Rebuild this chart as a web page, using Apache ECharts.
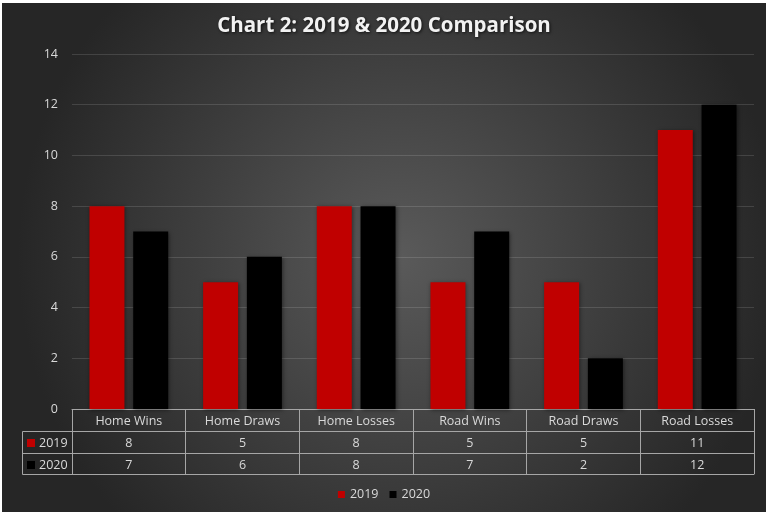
<!DOCTYPE html>
<html>
<head>
<meta charset="utf-8">
<script src="https://cdn.jsdelivr.net/npm/echarts@6/dist/echarts.min.js"></script>
<style>
html,body{margin:0;padding:0;background:#fff;width:772px;height:516px;overflow:hidden;}
#c{position:absolute;left:2px;top:3px;width:764px;height:509px;}
</style>
</head>
<body>
<div id="c"></div>
<script>
const categories = ['Home Wins','Home Draws','Home Losses','Road Wins','Road Draws','Road Losses'];
const seriesNames = ['2019','2020'];
const values2019 = [8,5,8,5,5,11];
const values2020 = [7,6,8,7,2,12];
const yTicks = {min:0,max:14,interval:2};

const colors = ['#c00000','#000000'];
const FONT = '"Open Sans", sans-serif';
const FS = 12.5;
const TXT = '#d9d9d9';
const BORDER = '#a6a6a6';
const G = {left:70, right:12, top:51, axisY:406};   // layout
const ROW = 22;
const tableLeft = 20;
const W = 764, H = 509;

const chart = echarts.init(document.getElementById('c'), null, {renderer:'canvas'});
const allVals = [values2019, values2020];

const xAxes = [
  {
    type:'category', data:categories, position:'bottom', gridIndex:0,
    axisLine:{show:true,lineStyle:{color:BORDER,width:1}},
    axisTick:{show:true,length:ROW*3-1,inside:false,lineStyle:{color:BORDER}},
    axisLabel:{color:TXT,fontFamily:FONT,fontSize:FS,margin:5.5,interval:0}
  }
];
allVals.forEach((vals, k) => {
  xAxes.push({
    type:'category', data:categories, position:'bottom', offset:ROW*(k+1),
    axisLine:{show:true,lineStyle:{color:BORDER,width:1}},
    axisTick:{show:false},
    axisLabel:{color:TXT,fontFamily:FONT,fontSize:FS,margin:5.5,interval:0,
      formatter:(v,i)=>String(vals[i])}
  });
});
xAxes.push({
  type:'category', data:categories, position:'bottom', offset:ROW*3-1,
  axisLine:{show:true,lineStyle:{color:BORDER,width:1}},
  axisTick:{show:false}, axisLabel:{show:false}
});

const graphics = [];
const rowTop = G.axisY + ROW;
[0,1,2].forEach(r=>{
  const y = rowTop + (r===2 ? ROW*2-1 : ROW*r) + 0.5;
  graphics.push({type:'line',shape:{x1:tableLeft+0.5,y1:y,x2:G.left+0.5,y2:y},style:{stroke:BORDER,lineWidth:1},silent:true});
});
graphics.push({type:'line',shape:{x1:tableLeft+0.5,y1:rowTop+0.5,x2:tableLeft+0.5,y2:rowTop+ROW*2-0.5},style:{stroke:BORDER,lineWidth:1},silent:true});
seriesNames.forEach((nm,k)=>{
  const cy = rowTop + ROW*k + ROW/2 + 1;
  graphics.push({type:'rect',shape:{x:tableLeft+5,y:cy-4,width:8,height:8},style:{fill:colors[k]},silent:true});
  graphics.push({type:'text',x:tableLeft+17,y:cy,style:{text:nm,fill:TXT,font:FS+'px '+FONT,verticalAlign:'middle',textAlign:'left'},silent:true});
});

chart.setOption({
  backgroundColor:{type:'radial',x:0.52,y:0.5,r:0.75,colorStops:[{offset:0,color:'#5a5a5a'},{offset:1,color:'#262626'}]},
  textStyle:{fontFamily:FONT},
  title:{text:'Chart 2: 2019 & 2020 Comparison',left:'center',top:8,
    textStyle:{color:'#f2f2f2',fontSize:20.5,fontWeight:'bold',fontFamily:FONT,
      textShadowColor:'rgba(0,0,0,0.7)',textShadowBlur:3,textShadowOffsetX:1,textShadowOffsetY:1}},
  legend:{data:seriesNames,top:480,left:'center',itemWidth:7,itemHeight:7,itemGap:11,icon:'rect',
    textStyle:{color:TXT,fontSize:FS,fontFamily:FONT}},
  grid:{left:G.left,right:G.right,top:G.top,bottom:H-G.axisY,containLabel:false},
  xAxis:xAxes,
  yAxis:{type:'value',min:yTicks.min,max:yTicks.max,interval:yTicks.interval,
    axisLine:{show:false},axisTick:{show:false},
    axisLabel:{color:TXT,fontSize:FS,fontFamily:FONT,margin:14},
    splitLine:{lineStyle:{color:'rgba(255,255,255,0.13)',width:1}}},
  series:seriesNames.map((nm,k)=>({
    name:nm,type:'bar',data:allVals[k],xAxisIndex:0,
    barWidth:35,barGap:'25%',
    itemStyle:{color:colors[k],shadowColor:'rgba(0,0,0,0.45)',shadowBlur:4,shadowOffsetX:1,shadowOffsetY:1}
  })),
  graphic:graphics,
  animation:false
});
</script>
</body>
</html>
